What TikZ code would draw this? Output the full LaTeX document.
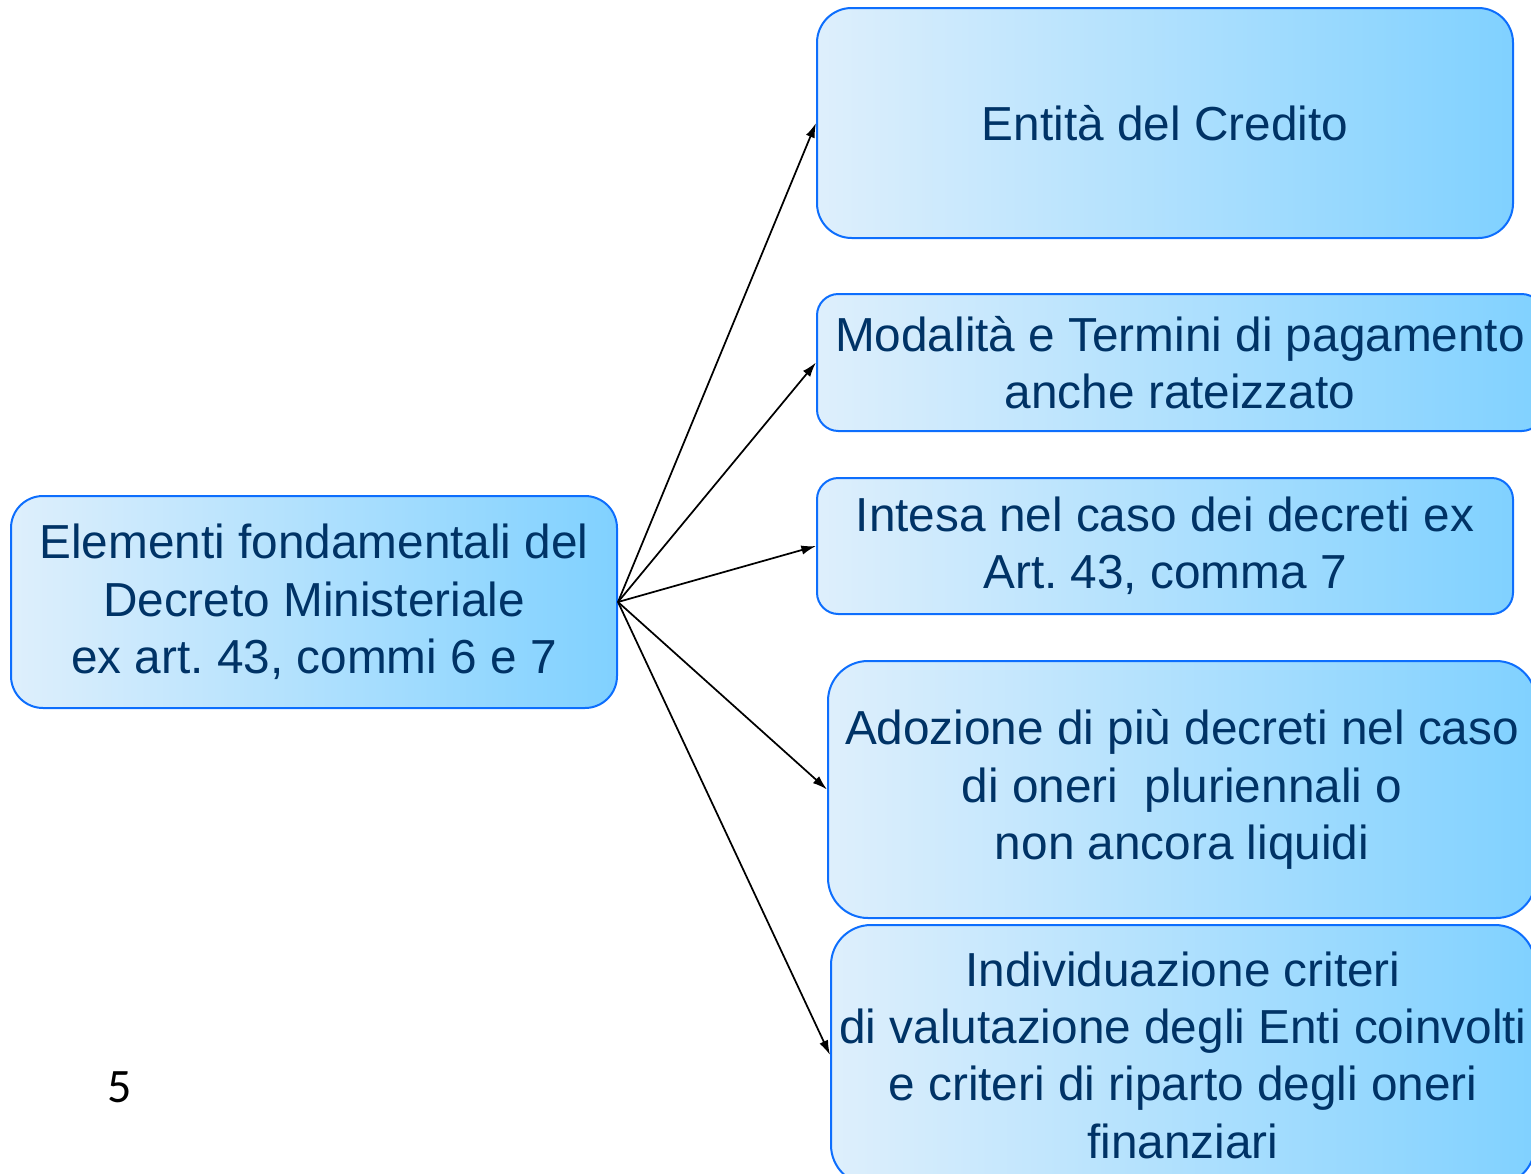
\documentclass[tikz,border=0pt]{standalone}
\usepackage{fontspec}
\setmainfont{Liberation Sans}
\newfontfamily\pagefont{Carlito}
\usepackage{tikz}
\usetikzlibrary{arrows.meta}
\frenchspacing

\begin{document}
\begin{tikzpicture}[x=0.75pt,y=0.75pt,yscale=-1,xscale=1,
  box/.style={draw={rgb, 255:red, 13; green, 110; blue, 253 }, line width=1.5pt,
    left color={rgb, 255:red, 222; green, 239; blue, 252 },
    right color={rgb, 255:red, 128; green, 209; blue, 255 },
    text={rgb, 255:red, 0; green, 51; blue, 102 }, align=center, inner sep=0pt,
    font=\fontsize{35.8}{43}\selectfont},
  conn/.style={line width=1.3pt, -{Latex[length=11pt,width=7pt]}}]
%set diagram size 1531 x 1174
\path [use as bounding box, clip] (0,0) rectangle (1531,1174);

%Left box
\node [box, rounded corners=24pt, minimum width=454.5pt, minimum height=159pt] (elementi) at (314,602) {Elementi fondamentali del\\Decreto Ministeriale\\ex art. 43, commi 6 e 7};

%Right boxes
\node [box, rounded corners=26pt, minimum width=522pt, minimum height=172.5pt] (credito) at (1165,123) {Entità del Credito};
\node [box, rounded corners=16pt, minimum width=544.5pt, minimum height=102.75pt] (modalita) at (1180,362.5) {Modalità e Termini di pagamento\\anche rateizzato};
\node [box, rounded corners=16pt, minimum width=522pt, minimum height=102pt] (intesa) at (1165,546) {Intesa nel caso dei decreti ex\\Art. 43, comma 7};
\node [box, rounded corners=30pt, minimum width=531pt, minimum height=192.75pt] (adozione) at (1182,789.5) {Adozione di più decreti nel caso\\di oneri\ \ pluriennali o\\ non ancora liquidi};
\node [box, rounded corners=30pt, minimum width=528pt, minimum height=195pt] (criteri) at (1183,1055) {Individuazione criteri\\di valutazione degli Enti coinvolti\\e criteri di riparto degli oneri\\finanziari};

%Page number
\node [font=\pagefont\fontsize{36}{40}\selectfont] (pagina) at (120,1087) {5};

%Straight Lines
\draw [conn] (elementi.east) -- (credito.west);
\draw [conn] (elementi.east) -- (modalita.west);
\draw [conn] (elementi.east) -- (intesa.west);
\draw [conn] (elementi.east) -- (adozione.west);
\draw [conn] (elementi.east) -- (criteri.west);

\end{tikzpicture}
\end{document}
